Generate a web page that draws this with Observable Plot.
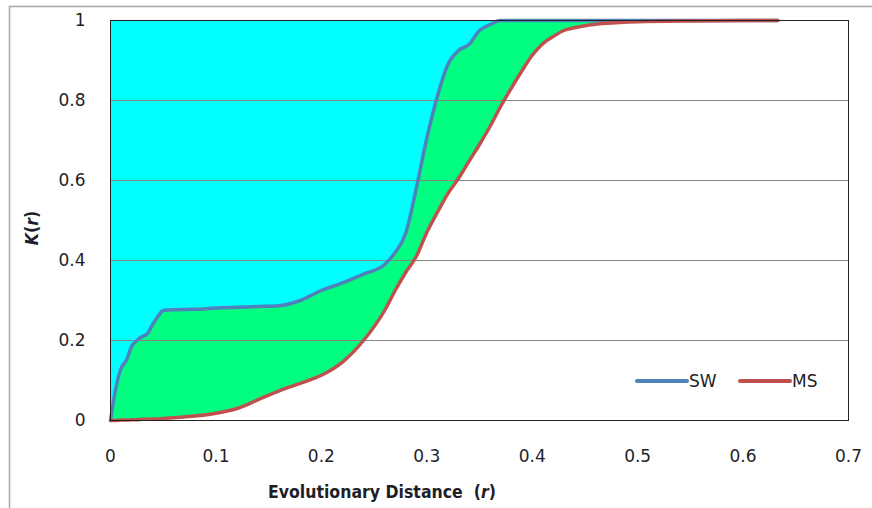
<!DOCTYPE html>
<html><head><meta charset="utf-8">
<script src="https://cdn.jsdelivr.net/npm/d3@7"></script>
<script src="https://cdn.jsdelivr.net/npm/@observablehq/plot@0.6"></script>
<style>body{margin:0;background:#fff}</style>
</head><body><div id="chart"></div>
<script>
// Evolutionary distance r (shared grid for both series)
const r  = [0, 0.005, 0.01, 0.015, 0.02, 0.025, 0.03, 0.035, 0.04, 0.045,
            0.05, 0.06, 0.08, 0.10, 0.12, 0.14, 0.16, 0.18, 0.20, 0.22,
            0.24, 0.26, 0.27, 0.28, 0.29, 0.30, 0.31, 0.32, 0.33, 0.34,
            0.35, 0.36, 0.37, 0.38, 0.39, 0.40, 0.41, 0.42, 0.43, 0.44,
            0.45, 0.47, 0.50, 0.55, 0.60, 0.633];
// K(r) for SW
const sw = [0, 0.08, 0.13, 0.15, 0.185, 0.20, 0.21, 0.217, 0.24, 0.26,
            0.275, 0.277, 0.278, 0.281, 0.283, 0.285, 0.287, 0.30, 0.325, 0.344,
            0.366, 0.39, 0.42, 0.468, 0.58, 0.705, 0.81, 0.89, 0.925, 0.94,
            0.975, 0.99, 1, 1, 1, 1, 1, 1, 1, 1,
            1, 1, 1, 1, 1, 1];
// K(r) for MS
const ms = [0, 0, 0.001, 0.001, 0.002, 0.002, 0.003, 0.003, 0.004, 0.004,
            0.005, 0.007, 0.011, 0.018, 0.03, 0.052, 0.074, 0.093, 0.113, 0.146,
            0.20, 0.275, 0.325, 0.37, 0.41, 0.47, 0.52, 0.567, 0.605, 0.648,
            0.69, 0.735, 0.785, 0.83, 0.873, 0.913, 0.942, 0.96, 0.975, 0.982,
            0.987, 0.993, 0.997, 0.999, 1, 1];
const xTicks = [0, 0.1, 0.2, 0.3, 0.4, 0.5, 0.6, 0.7];
const yTicks = [0, 0.2, 0.4, 0.6, 0.8, 1];
const seriesNames = ["SW", "MS"];
const seriesColors = ["#4F81BD", "#C0504D"];
const fillAbove = "#00FFFF";
const fillBetween = "#00FF80";

const rows = r.map((x, i) => ({r: x, sw: sw[i], ms: ms[i]}));
const fmt = v => String(+v.toFixed(2));

const svg = Plot.plot({
  width: 872, height: 508,
  marginLeft: 110, marginRight: 24, marginTop: 20, marginBottom: 88,
  style: {fontFamily: "'DejaVu Sans', sans-serif", fontSize: "17px", color: "#1e1e28", background: "#fff"},
  x: {domain: [0, 0.7]},
  y: {domain: [0, 1]},
  marks: [
    Plot.areaY(rows, {x: "r", y1: "sw", y2: 1, fill: fillAbove, curve: "monotone-x"}),
    Plot.areaY(rows, {x: "r", y1: "ms", y2: "sw", fill: fillBetween, curve: "monotone-x"}),
    Plot.gridY(yTicks, {stroke: "#868686", strokeOpacity: 1}),
    Plot.line(rows, {x: "r", y: "sw", stroke: seriesColors[0], strokeWidth: 3.5, curve: "monotone-x", strokeLinecap: "round"}),
    Plot.line(rows, {x: "r", y: "ms", stroke: seriesColors[1], strokeWidth: 3.5, curve: "monotone-x", strokeLinecap: "round"}),
    Plot.frame({stroke: "#222"}),
    Plot.axisX(xTicks, {tickSize: 0, tickPadding: 29, tickFormat: fmt, label: null}),
    Plot.axisY(yTicks, {tickSize: 0, tickPadding: 25, tickFormat: fmt, label: null})
  ]
});

const s = d3.select(svg);
// outer chart border
s.insert("rect", ":first-child")
  .attr("x", 9.5).attr("y", 6.5).attr("width", 900).attr("height", 600)
  .attr("fill", "none").attr("stroke", "#a8a8a8").attr("stroke-width", 1.5);

// x axis title
const xt = s.append("text").attr("x", 268).attr("y", 498)
  .attr("text-anchor", "start")
  .attr("font-family", "'DejaVu Sans Condensed', 'DejaVu Sans', sans-serif")
  .attr("font-size", 17.5).attr("font-weight", "bold").attr("fill", "#1e1e28");
xt.append("tspan").text("Evolutionary Distance\u00A0\u00A0(");
xt.append("tspan").attr("font-style", "italic").text("r");
xt.append("tspan").text(")");

// y axis title
const yt = s.append("text").attr("transform", "translate(38,228) rotate(-90)")
  .attr("text-anchor", "middle")
  .attr("font-family", "'DejaVu Sans Condensed', 'DejaVu Sans', sans-serif")
  .attr("font-size", 17.5).attr("font-weight", "bold").attr("fill", "#1e1e28");
yt.append("tspan").attr("font-style", "italic").text("K");
yt.append("tspan").text("(");
yt.append("tspan").attr("font-style", "italic").text("r");
yt.append("tspan").text(")");

// legend
const legendX = [637, 740];
seriesNames.forEach((name, i) => {
  const x0 = legendX[i];
  s.append("line").attr("x1", x0).attr("x2", x0 + 50).attr("y1", 381).attr("y2", 381)
    .attr("stroke", seriesColors[i]).attr("stroke-width", 4).attr("stroke-linecap", "round");
  s.append("text").attr("x", x0 + 52).attr("y", 387)
    .attr("text-anchor", "start")
    .attr("font-family", "'DejaVu Sans', sans-serif").attr("font-size", 17)
    .attr("fill", "#1e1e28").text(name);
});

document.getElementById("chart").appendChild(svg);
</script>
</body></html>
